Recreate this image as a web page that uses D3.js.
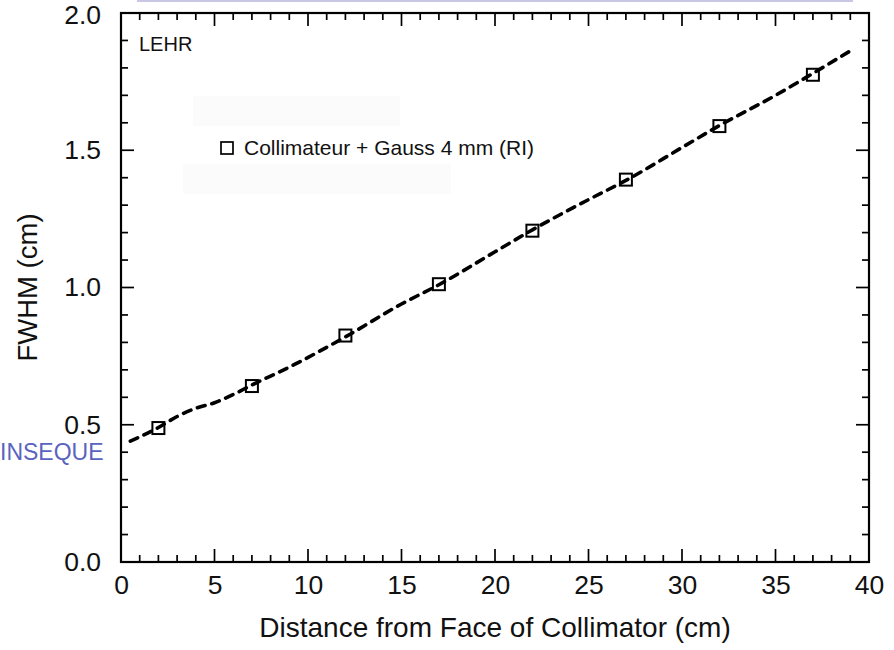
<!DOCTYPE html>
<html><head><meta charset="utf-8">
<script src="https://cdn.jsdelivr.net/npm/d3@7"></script>
<style>body{margin:0;background:#fff;}svg{display:block;font-family:"Liberation Sans",Arial,sans-serif;}</style>
</head><body><div id="chart"></div>
<script>
const pointX = [2, 7, 12, 17, 22, 27, 32, 37];
const pointY = [0.488, 0.641, 0.825, 1.012, 1.207, 1.393, 1.588, 1.775];
const curveX = [0.5, 2, 3, 4, 5, 6, 7, 9, 12, 15, 17, 20, 22, 25, 27, 30, 32, 35, 37, 39];
const curveY = [0.44, 0.49, 0.53, 0.56, 0.58, 0.61, 0.645, 0.71, 0.82, 0.94, 1.01, 1.13, 1.21, 1.32, 1.39, 1.51, 1.59, 1.70, 1.78, 1.862];
const xTicks = [0, 5, 10, 15, 20, 25, 30, 35, 40];
const yTicks = [0.0, 0.5, 1.0, 1.5, 2.0];
const xLabel = "Distance from Face of Collimator (cm)";
const yLabel = "FWHM (cm)";
const legendLabel = "Collimateur + Gauss 4 mm (RI)";
const panelLabel = "LEHR";
const sideText = "INSEQUE";

const W = 894, H = 650;
const m = {left: 121, right: 25, top: 13, bottom: 88};
const FF = '"Liberation Sans", Arial, sans-serif';
const svg = d3.select("#chart").append("svg").attr("width", W).attr("height", H);
const x = d3.scaleLinear().domain([0, 40]).range([m.left, W - m.right]);
const y = d3.scaleLinear().domain([0, 2]).range([H - m.bottom, m.top]);

// slide artifacts
svg.append("line").attr("x1", 137).attr("x2", 853).attr("y1", 1).attr("y2", 1)
  .attr("stroke", "#c8c8e6").attr("stroke-width", 2);
svg.append("rect").attr("x", 193).attr("y", 96).attr("width", 207).attr("height", 30).attr("fill", "#fbfbfb");
svg.append("rect").attr("x", 183).attr("y", 164).attr("width", 268).attr("height", 30).attr("fill", "#fbfbfb");

const g = svg.append("g");
const minorX = d3.range(0, 41, 1), minorY = d3.range(0, 2.01, 0.1);
function tick(x1, y1, x2, y2) {
  g.append("line").attr("x1", x1).attr("y1", y1).attr("x2", x2).attr("y2", y2)
    .attr("stroke", "#000").attr("stroke-width", 1.7);
}
minorX.forEach(v => {
  const major = Math.abs(v % 5) < 1e-6;
  const L = major ? 13 : 7;
  if (v > 0 && v < 40) {
    tick(x(v), y(0), x(v), y(0) - L);
    tick(x(v), y(2), x(v), y(2) + L);
  }
});
minorY.forEach(v => {
  const r = Math.round(v * 10);
  const major = r % 5 === 0;
  const L = major ? 13 : 7;
  if (r > 0 && r < 20) {
    tick(x(0), y(v), x(0) + L, y(v));
    tick(x(40), y(v), x(40) - L, y(v));
  }
});
svg.append("rect").attr("x", x(0)).attr("y", y(2)).attr("width", x(40) - x(0)).attr("height", y(0) - y(2))
  .attr("fill", "none").attr("stroke", "#000").attr("stroke-width", 2.2);

const xAxis = svg.append("g").attr("transform", `translate(0,${y(0)})`)
  .call(d3.axisBottom(x).tickValues(xTicks).tickSize(0).tickPadding(13).tickFormat(d3.format("d")));
const yAxis = svg.append("g").attr("transform", `translate(${x(0)},0)`)
  .call(d3.axisLeft(y).tickValues(yTicks).tickSize(0).tickPadding(20).tickFormat(d3.format(".1f")));
[xAxis, yAxis].forEach(a => {
  a.select(".domain").remove();
  a.attr("font-size", null).attr("font-family", null);
  a.selectAll("text").style("font-size", "26.5px").attr("fill", "#111").style("font-family", FF);
});
yAxis.selectAll(".tick").filter(d => d === 2).select("text").attr("y", 2.5);

svg.append("text").attr("x", (x(0) + x(40)) / 2).attr("y", 637).attr("text-anchor", "middle")
  .style("font-size", "28px").attr("fill", "#111").text(xLabel);
svg.append("text").attr("transform", `translate(37,${y(1)}) rotate(-90)`).attr("text-anchor", "middle")
  .style("font-size", "27.5px").attr("fill", "#111").text(yLabel);

svg.append("text").attr("x", 139).attr("y", 51).style("font-size", "20px").attr("fill", "#111").text(panelLabel);
svg.append("text").attr("x", 0).attr("y", 460).style("font-size", "23px").attr("fill", "#5a63c0").text(sideText);

// dashed curve
const line = d3.line().x(d => x(d[0])).y(d => y(d[1])).curve(d3.curveMonotoneX);
svg.append("path").datum(curveX.map((v, i) => [v, curveY[i]])).attr("d", line)
  .attr("fill", "none").attr("stroke", "#000").attr("stroke-width", 3.6)
  .attr("stroke-dasharray", "8,7").attr("stroke-linecap", "round");

// markers
const s = 12;
svg.append("g").selectAll("rect").data(pointX.map((v, i) => [v, pointY[i]])).join("rect")
  .attr("x", d => x(d[0]) - s / 2).attr("y", d => y(d[1]) - s / 2).attr("width", s).attr("height", s)
  .attr("fill", "none").attr("stroke", "#000").attr("stroke-width", 2);

// legend
svg.append("rect").attr("x", 221).attr("y", 142).attr("width", 12).attr("height", 12)
  .attr("fill", "none").attr("stroke", "#000").attr("stroke-width", 1.7);
svg.append("text").attr("x", 244).attr("y", 155).style("font-size", "21px").attr("fill", "#111").text(legendLabel);
</script></body></html>
